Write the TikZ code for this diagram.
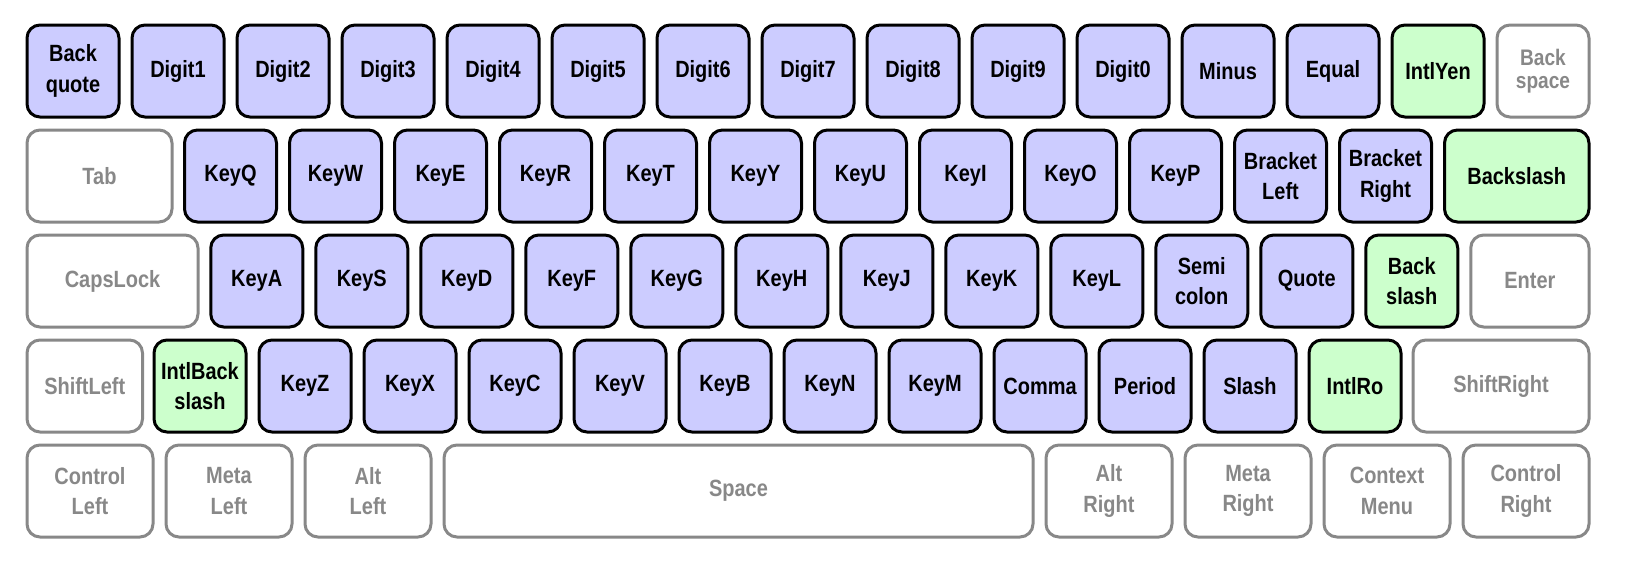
\documentclass[tikz,border=0pt]{standalone}
\usepackage{fontspec}
\setmainfont{Liberation Sans}[FakeStretch=0.85]
\definecolor{keyblue}{HTML}{CCCCFF}
\definecolor{keygreen}{HTML}{CCFFCC}
\definecolor{keygray}{HTML}{888888}
\tikzset{
  keybase/.style={rounded corners=13pt, line width=3pt, inner sep=0pt,
    minimum height=92pt, align=center, anchor=north west,
    font=\fontsize{23.5}{30.5}\selectfont\bfseries},
  ukey/.style={keybase, draw=black, fill=keyblue, text=black},
  gkey/.style={keybase, draw=black, fill=keygreen, text=black},
  mkey/.style={keybase, draw=keygray, fill=white, text=keygray},
  tightkey/.style={font=\fontsize{22.5}{22.5}\selectfont\bfseries}
}
% #1 style, #2 name, #3 left edge, #4 top edge, #5 outer width, #6 text
\newcommand\keyat[6]{\node[#1, minimum width={#5pt-3pt}] (#2) at ({#3+1.5},{#4+1.5}) {#6};}
\begin{document}
\begin{tikzpicture}[x=1pt,y=-1pt]
\useasboundingbox[fill=white] (0,0) rectangle (1625,565);
% Row 1
\keyat{ukey}{backquote}{24+105*0}{22}{95}{Back\\quote}
\keyat{ukey}{digit1}{24+105*1}{22}{95}{Digit1}
\keyat{ukey}{digit2}{24+105*2}{22}{95}{Digit2}
\keyat{ukey}{digit3}{24+105*3}{22}{95}{Digit3}
\keyat{ukey}{digit4}{24+105*4}{22}{95}{Digit4}
\keyat{ukey}{digit5}{24+105*5}{22}{95}{Digit5}
\keyat{ukey}{digit6}{24+105*6}{22}{95}{Digit6}
\keyat{ukey}{digit7}{24+105*7}{22}{95}{Digit7}
\keyat{ukey}{digit8}{24+105*8}{22}{95}{Digit8}
\keyat{ukey}{digit9}{24+105*9}{22}{95}{Digit9}
\keyat{ukey}{digit0}{24+105*10}{22}{95}{Digit0}
\keyat{ukey}{minus}{24+105*11}{22}{95}{Minus}
\keyat{ukey}{equal}{24+105*12}{22}{95}{Equal}
\keyat{gkey}{intlyen}{24+105*13}{22}{95}{IntlYen}
\keyat{mkey,tightkey}{backspace}{24+105*14}{22}{95}{Back\\space}
% Row 2
\keyat{mkey}{tab}{24}{127}{148}{Tab}
\keyat{ukey}{keyq}{181.5+105*0}{127}{95}{KeyQ}
\keyat{ukey}{keyw}{181.5+105*1}{127}{95}{KeyW}
\keyat{ukey}{keye}{181.5+105*2}{127}{95}{KeyE}
\keyat{ukey}{keyr}{181.5+105*3}{127}{95}{KeyR}
\keyat{ukey}{keyt}{181.5+105*4}{127}{95}{KeyT}
\keyat{ukey}{keyy}{181.5+105*5}{127}{95}{KeyY}
\keyat{ukey}{keyu}{181.5+105*6}{127}{95}{KeyU}
\keyat{ukey}{keyi}{181.5+105*7}{127}{95}{KeyI}
\keyat{ukey}{keyo}{181.5+105*8}{127}{95}{KeyO}
\keyat{ukey}{keyp}{181.5+105*9}{127}{95}{KeyP}
\keyat{ukey}{bracketleft}{181.5+105*10}{127}{95}{Bracket\\Left}
\keyat{ukey}{bracketright}{181.5+105*11}{127}{95}{Bracket\\Right}
\keyat{gkey}{backslash}{1441.5}{127}{147.5}{Backslash}
% Row 3
\keyat{mkey}{capslock}{24}{232}{174}{CapsLock}
\keyat{ukey}{keya}{207.75+105*0}{232}{95}{KeyA}
\keyat{ukey}{keys}{207.75+105*1}{232}{95}{KeyS}
\keyat{ukey}{keyd}{207.75+105*2}{232}{95}{KeyD}
\keyat{ukey}{keyf}{207.75+105*3}{232}{95}{KeyF}
\keyat{ukey}{keyg}{207.75+105*4}{232}{95}{KeyG}
\keyat{ukey}{keyh}{207.75+105*5}{232}{95}{KeyH}
\keyat{ukey}{keyj}{207.75+105*6}{232}{95}{KeyJ}
\keyat{ukey}{keyk}{207.75+105*7}{232}{95}{KeyK}
\keyat{ukey}{keyl}{207.75+105*8}{232}{95}{KeyL}
\keyat{ukey}{semicolon}{207.75+105*9}{232}{95}{Semi\\colon}
\keyat{ukey}{quote}{207.75+105*10}{232}{95}{Quote}
\keyat{gkey}{backslashb}{207.75+105*11}{232}{95}{Back\\slash}
\keyat{mkey}{enter}{1467.75}{232}{121.25}{Enter}
% Row 4
\keyat{mkey}{shiftleft}{24}{337}{118.5}{ShiftLeft}
\keyat{gkey}{intlbackslash}{151+105*0}{337}{95}{IntlBack\\slash}
\keyat{ukey}{keyz}{151+105*1}{337}{95}{KeyZ}
\keyat{ukey}{keyx}{151+105*2}{337}{95}{KeyX}
\keyat{ukey}{keyc}{151+105*3}{337}{95}{KeyC}
\keyat{ukey}{keyv}{151+105*4}{337}{95}{KeyV}
\keyat{ukey}{keyb}{151+105*5}{337}{95}{KeyB}
\keyat{ukey}{keyn}{151+105*6}{337}{95}{KeyN}
\keyat{ukey}{keym}{151+105*7}{337}{95}{KeyM}
\keyat{ukey}{comma}{151+105*8}{337}{95}{Comma}
\keyat{ukey}{period}{151+105*9}{337}{95}{Period}
\keyat{ukey}{slash}{151+105*10}{337}{95}{Slash}
\keyat{gkey}{intlro}{151+105*11}{337}{95}{IntlRo}
\keyat{mkey}{shiftright}{1410}{337}{179}{ShiftRight}
% Row 5
\keyat{mkey}{controlleft}{24}{442}{129}{Control\\Left}
\keyat{mkey}{metaleft}{163}{442}{129}{Meta\\Left}
\keyat{mkey}{altleft}{302}{442}{129}{Alt\\Left}
\keyat{mkey}{space}{441}{442}{592}{Space}
\keyat{mkey}{altright}{1043}{442}{129}{Alt\\Right}
\keyat{mkey}{metaright}{1182}{442}{129}{Meta\\Right}
\keyat{mkey}{contextmenu}{1321}{442}{129}{Context\\Menu}
\keyat{mkey}{controlright}{1460}{442}{129}{Control\\Right}
\end{tikzpicture}
\end{document}
